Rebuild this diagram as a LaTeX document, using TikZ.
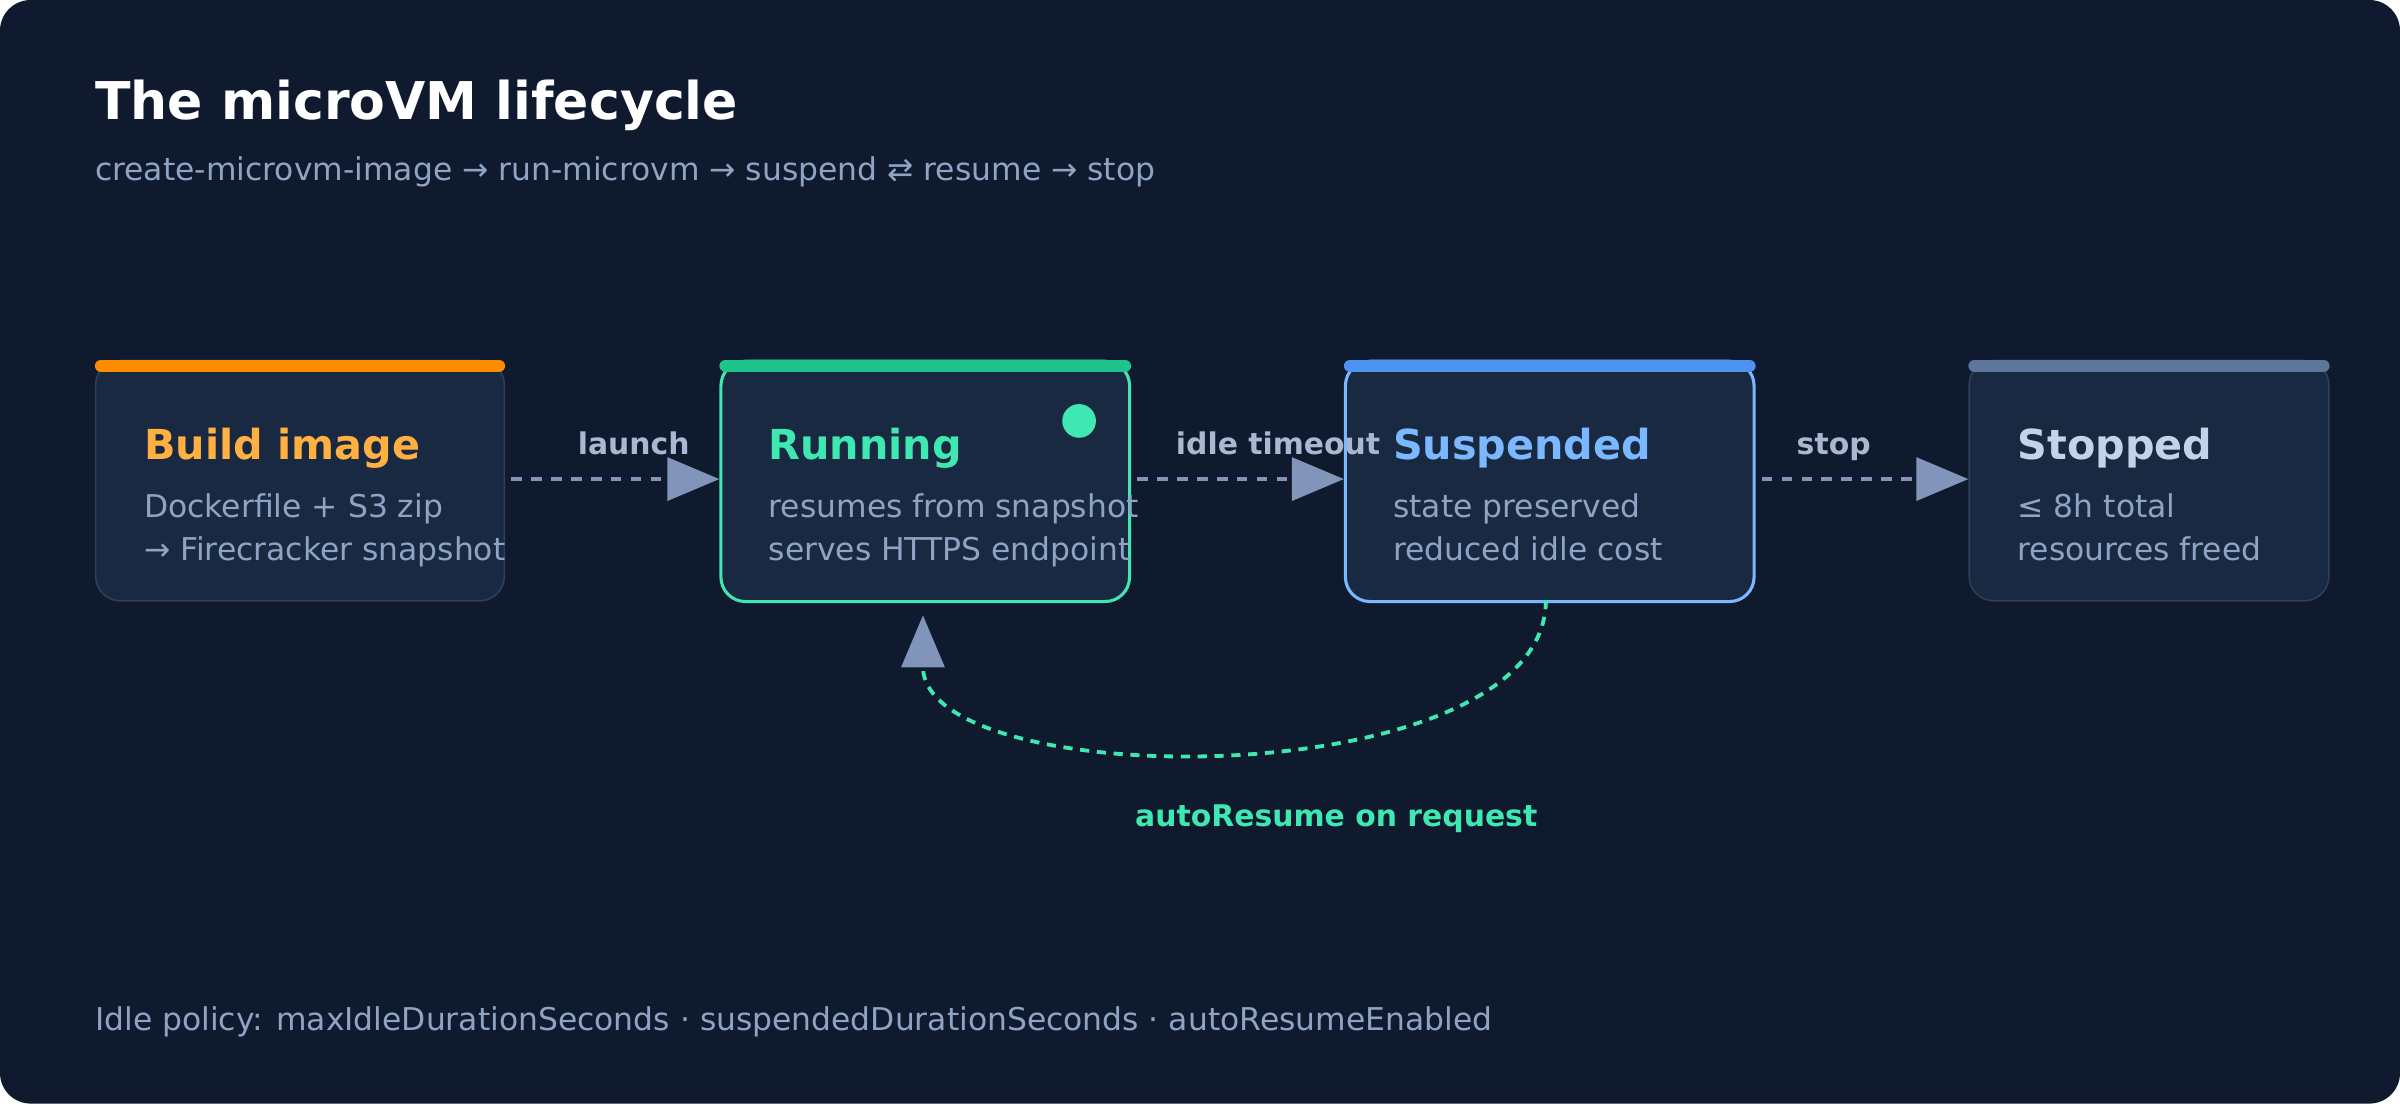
\documentclass[tikz,border=0pt]{standalone}
\usepackage{fontspec}
\setmainfont{DejaVu Sans}
\usetikzlibrary{arrows.meta}
\definecolor{bg}{HTML}{0F1A2E}
\definecolor{card}{HTML}{1A2942}
\definecolor{cardline}{HTML}{2E3F5E}
\definecolor{muted}{HTML}{8FA3C4}
\definecolor{lbl}{HTML}{A9B7D0}
\definecolor{arr}{HTML}{8195BB}
\definecolor{orng}{HTML}{FF8C00}
\definecolor{orngt}{HTML}{FFB040}
\definecolor{grn}{HTML}{1FC48A}
\definecolor{grnt}{HTML}{3EE8B0}
\definecolor{blu}{HTML}{4D94F0}
\definecolor{blut}{HTML}{7AB8FF}
\definecolor{gry}{HTML}{5F769C}
\definecolor{gryt}{HTML}{C5D3EA}
\tikzset{
 cardbox/.style={draw=cardline,line width=1pt,fill=card,rounded corners=16pt,minimum height=157pt,inner sep=0pt,anchor=north west},
 bar/.style={line width=8pt,line cap=round},
 ttl/.style={anchor=base west,font=\fontsize{27}{32}\selectfont\bfseries,inner sep=0pt},
 body/.style={anchor=base west,font=\fontsize{20.5}{24}\selectfont,text=muted,inner sep=0pt},
 alab/.style={anchor=base,font=\fontsize{19.5}{23}\selectfont\bfseries,text=lbl,inner sep=0pt},
 flow/.style={arr,line width=2.5pt,dash pattern=on 7pt off 6pt,-{Triangle[length=34pt,width=28pt,color=arr]}},
}
\begin{document}
\begin{tikzpicture}[x=1pt,y=-1pt]
\fill[bg,rounded corners=20pt] (0,0) rectangle (1568,721);
\useasboundingbox (0,0) rectangle (1568,721);
\node[anchor=base west,inner sep=0pt,text=white,font=\fontsize{34}{40}\selectfont\bfseries] (title) at (62,78) {The microVM lifecycle};
\node[anchor=base west,inner sep=0pt,text=muted,font=\fontsize{20.5}{24}\selectfont] (sub) at (62,118) {create-microvm-image → run-microvm → suspend ⇄ resume → stop};
% cards
\node[cardbox,minimum width=267pt] (b1) at (62,235) {};
\node[cardbox,minimum width=267pt,draw=grnt,line width=2pt] (b2) at (470,235) {};
\node[cardbox,minimum width=267pt,draw=blut,line width=2pt] (b3) at (878,235) {};
\node[cardbox,minimum width=235pt] (b4) at (1286,235) {};
\draw[bar,orng] (b1.north west) ++(4,4) -- ([xshift=-4pt,yshift=-4pt]b1.north east);
\draw[bar,grn] (b2.north west) ++(4,4) -- ([xshift=-4pt,yshift=-4pt]b2.north east);
\draw[bar,blu] (b3.north west) ++(4,4) -- ([xshift=-4pt,yshift=-4pt]b3.north east);
\draw[bar,gry] (b4.north west) ++(4,4) -- ([xshift=-4pt,yshift=-4pt]b4.north east);
\fill[grnt] (705,275) circle (11pt);
% texts
\node[ttl,text=orngt] (t1) at (94,300) {Build image};
\node[body] (l11) at (94,338) {Dockerfile + S3 zip};
\node[body] (l12) at (94,366) {→ Firecracker snapshot};
\node[ttl,text=grnt] (t2) at (502,300) {Running};
\node[body] (l21) at (502,338) {resumes from snapshot};
\node[body] (l22) at (502,366) {serves HTTPS endpoint};
\node[ttl,text=blut] (t3) at (910,300) {Suspended};
\node[body] (l31) at (910,338) {state preserved};
\node[body] (l32) at (910,366) {reduced idle cost};
\node[ttl,text=gryt] (t4) at (1318,300) {Stopped};
\node[body] (l41) at (1318,338) {≤ 8h total};
\node[body] (l42) at (1318,366) {resources freed};
% arrows
\draw[flow] (b1.east |- 0,313) ++(4,0) -- (b2.west |- 0,313);
\draw[flow] (b2.east |- 0,313) ++(4,0) -- (b3.west |- 0,313);
\draw[flow] (b3.east |- 0,313) ++(4,0) -- (b4.west |- 0,313);
\node[alab] (a1) at (414,297) {launch};
\node[alab] (a2) at (835,297) {idle timeout};
\node[alab] (a3) at (1198,297) {stop};
\coordinate (rs) at (1010,392);
\coordinate (re) at (603,402);
\draw[grnt,line width=2.5pt,dash pattern=on 6pt off 5pt,-{Triangle[length=34pt,width=28pt,color=arr]}] (rs) .. controls (1010,520) and (603,520) .. (re);
\node[anchor=base,inner sep=0pt,text=grnt,font=\fontsize{19.5}{23}\selectfont\bfseries] (ar) at (873,540) {autoResume on request};
\node[anchor=base west,inner sep=0pt,text=muted,font=\fontsize{20.5}{24}\selectfont] (foot) at (62,673) {Idle policy: maxIdleDurationSeconds · suspendedDurationSeconds · autoResumeEnabled};
\end{tikzpicture}
\end{document}
